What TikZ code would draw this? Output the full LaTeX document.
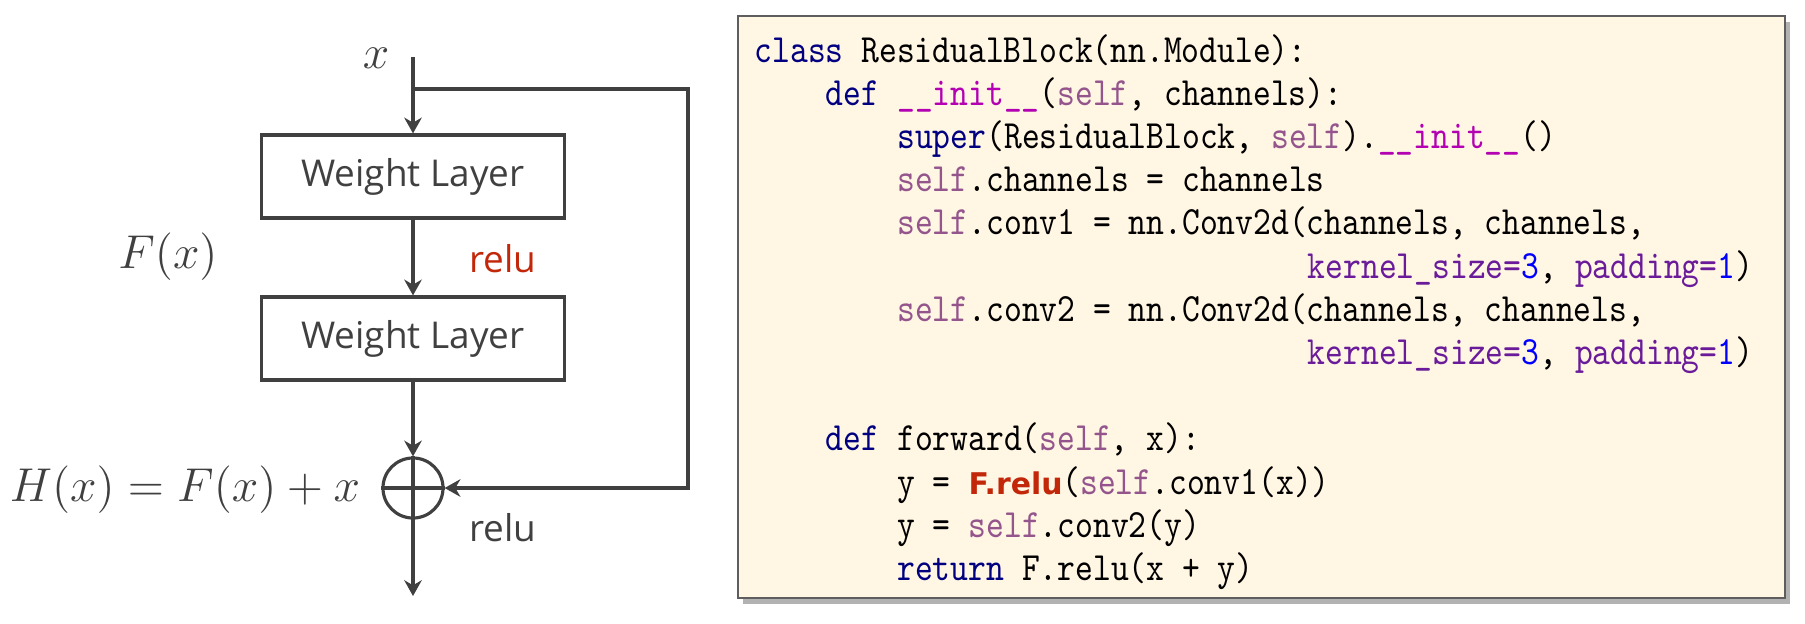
\RequirePackage{fix-cm}
\documentclass[tikz,border=0pt]{standalone}
\usepackage[no-math]{fontspec}
\setmainfont{Open Sans}
\newfontfamily\codefont{lmmono10-regular.otf}[FakeStretch=0.846]
\newfontfamily\relufont{DejaVu Sans}
\usetikzlibrary{arrows.meta,shadows}
\definecolor{linegray}{HTML}{404040}
\definecolor{relured}{HTML}{C2270A}
\definecolor{panelfill}{HTML}{FFF6E3}
\definecolor{panelgray}{HTML}{5E5E5E}
\definecolor{kwnavy}{HTML}{000080}
\definecolor{selfmauve}{HTML}{94558D}
\definecolor{initmag}{HTML}{B200B2}
\definecolor{argpurple}{HTML}{6A1B9A}
\definecolor{numblue}{HTML}{0000FF}

\begin{document}
\begin{tikzpicture}[x=0.01cm,y=-0.01cm,line width=0.9pt,>={Stealth[length=4.5pt,width=5pt]},
  wlayer/.style={draw=linegray,minimum width=3.03cm,minimum height=0.83cm,inner sep=0pt,
    text=linegray,font=\fontsize{10.5}{12}\selectfont},
  sumnode/.style={circle,draw=linegray,minimum size=0.6cm,inner sep=0pt},
  mathlbl/.style={inner sep=0pt,text=linegray,font=\fontsize{13.5}{16}\selectfont},
  relulbl/.style={anchor=base,inner sep=0pt,font=\fontsize{10.5}{12}\selectfont},
  panel/.style={fill=panelfill,draw=panelgray,line width=0.8pt,
    drop shadow={shadow xshift=1.3pt,shadow yshift=-1.6pt,opacity=0.3,fill=black}},
  codetext/.style={anchor=base west,inner sep=0pt,font=\codefont\fontsize{11.4}{13}\selectfont\frenchspacing}]
\useasboundingbox (0,0) rectangle (1805,623);
% 代码着色
\newcommand{\kw}[1]{\textcolor{kwnavy}{#1}}
\newcommand{\slf}[1]{\textcolor{selfmauve}{#1}}
\newcommand{\dund}[1]{\textcolor{initmag}{#1}}
\newcommand{\kwarg}[1]{\textcolor{argpurple}{#1}}
\newcommand{\nm}[1]{\textcolor{numblue}{#1}}
% 一行代码，#2 = 列，#3 = 行
\newcommand{\codeln}[4]{\node[codetext] (#1) at (753+#2*17.85,62+#3*43.2) {#4};}
% ---------- 残差块 ----------
\coordinate (xin) at (413,57);
\coordinate (split) at (413,89);
\coordinate (skipa) at (688,89);
\coordinate (skipb) at (688,488);
\coordinate (out) at (413,596);
\node[wlayer] (wl1) at (413,176.5) {Weight Layer};
\node[wlayer] (wl2) at (413,338.5) {Weight Layer};
\node[sumnode] (sum) at (413,488) {};
\draw[linegray] (sum.north) -- (sum.south) (sum.west) -- (sum.east);
\draw[->,linegray] (xin) -- (wl1);
\draw[->,linegray] (wl1) -- (wl2);
\draw[->,linegray] (wl2) -- (sum);
\draw[->,linegray] (sum) -- (out);
\draw[->,linegray] (split) -- (skipa) -- (skipb) -- (sum);
\node[mathlbl] (xlbl) at (376,58) {$x$};
\node[mathlbl] (flbl) at (168,257) {$F(x)$};
\node[mathlbl] (hlbl) at (185,490) {$H(x)=F(x)+x$};
\node[relulbl,text=relured] (relua) at (503,272) {relu};
\node[relulbl,text=linegray] (relub) at (503,541) {relu};
% ---------- 代码 ----------
\draw[panel] (738,16) rectangle (1785,598);
\codeln{code1}{0}{0}{\kw{class} ResidualBlock(nn.Module):}
\codeln{code2}{4}{1}{\kw{def} \dund{\_\_init\_\_}(\slf{self}, channels):}
\codeln{code3}{8}{2}{\kw{super}(ResidualBlock, \slf{self}).\dund{\_\_init\_\_}()}
\codeln{code4}{8}{3}{\slf{self}.channels = channels}
\codeln{code5}{8}{4}{\slf{self}.conv1 = nn.Conv2d(channels, channels,}
\codeln{code6}{31}{5}{\kwarg{kernel\_size=}\nm{3}, \kwarg{padding=}\nm{1})}
\codeln{code7}{8}{6}{\slf{self}.conv2 = nn.Conv2d(channels, channels,}
\codeln{code8}{31}{7}{\kwarg{kernel\_size=}\nm{3}, \kwarg{padding=}\nm{1})}
\codeln{code9}{4}{9}{\kw{def} forward(\slf{self}, x):}
\codeln{code10}{8}{10}{y = {\relufont\bfseries\fontsize{8.5}{9}\selectfont\color{relured}F.relu}(\slf{self}.conv1(x))}
\codeln{code11}{8}{11}{y = \slf{self}.conv2(y)}
\codeln{code12}{8}{12}{\kw{return} F.relu(x + y)}
\end{tikzpicture}
\end{document}
